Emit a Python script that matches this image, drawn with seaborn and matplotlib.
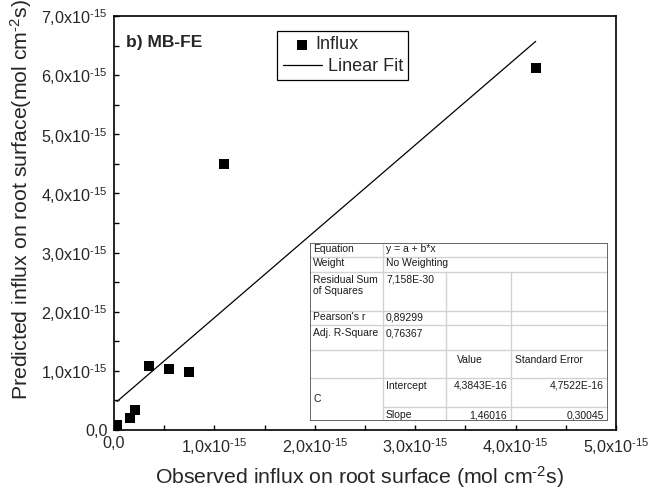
"""
Predicted vs observed influx on root surface, MB-FE, with linear fit.
"""

import numpy as np
import pandas as pd
import seaborn as sns
import matplotlib.pyplot as plt
from matplotlib.patches import Rectangle
from matplotlib.ticker import FuncFormatter, FixedLocator

# --- Data ---
observed = [0.03e-15, 0.16e-15, 0.21e-15, 0.35e-15, 0.55e-15, 0.75e-15, 1.10e-15, 4.20e-15]
predicted = [0.08e-15, 0.20e-15, 0.34e-15, 1.08e-15, 1.03e-15, 0.98e-15, 4.50e-15, 6.12e-15]

x_ticks = [0, 1e-15, 2e-15, 3e-15, 4e-15, 5e-15]
y_ticks = [0, 1e-15, 2e-15, 3e-15, 4e-15, 5e-15, 6e-15, 7e-15]

# fit results as printed in the Origin table
fit_intercept = 4.3843e-16
fit_slope = 1.46016
fit_table = [
    ["Equation", "y = a + b*x", "", ""],
    ["Weight", "No Weighting", "", ""],
    ["Residual Sum\nof Squares", "7,158E-30", "", ""],
    ["Pearson's r", "0,89299", "", ""],
    ["Adj. R-Square", "0,76367", "", ""],
    ["", "", "Value", "Standard Error"],
    ["C", "Intercept", "4,3843E-16", "4,7522E-16"],
    ["", "Slope", "1,46016", "0,30045"],
]

df = pd.DataFrame({"Observed": observed, "Predicted": predicted})
x_fit = np.array([df["Observed"].min(), df["Observed"].max()])
fit_df = pd.DataFrame({"x": x_fit, "y": fit_intercept + fit_slope * x_fit})

# --- Style ---
sns.set_style("ticks")
plt.rcParams["font.family"] = ["Liberation Sans", "DejaVu Sans"]
plt.rcParams["mathtext.fontset"] = "custom"
plt.rcParams["mathtext.rm"] = "Liberation Sans"
plt.rcParams["mathtext.it"] = "Liberation Sans:italic"
plt.rcParams["mathtext.bf"] = "Liberation Sans:bold"

fig = plt.figure(figsize=(6.5, 4.95), dpi=100)
ax = fig.add_axes([114 / 650, 1 - 430 / 495, 502 / 650, 414 / 495])

sns.scatterplot(data=df, x="Observed", y="Predicted", marker="s", s=48,
                color="black", edgecolor="black", linewidth=0, label="Influx",
                ax=ax, zorder=3)
sns.lineplot(data=fit_df, x="x", y="y", color="black", linewidth=0.9,
             label="Linear Fit", ax=ax)

ax.set_xlim(x_ticks[0], x_ticks[-1])
ax.set_ylim(y_ticks[0], y_ticks[-1])


def sci_fmt(v, pos):
    n = v / 1e-15
    if abs(n) < 1e-9:
        return "0,0"
    # \text keeps the plain hyphen the original uses
    return f"{n:.1f}".replace(".", ",") + r"x10$^{\text{-15}}$"


def halves(ticks):
    return [(a + b) / 2 for a, b in zip(ticks[:-1], ticks[1:])]


ax.xaxis.set_major_locator(FixedLocator(x_ticks))
ax.xaxis.set_minor_locator(FixedLocator(halves(x_ticks)))
ax.yaxis.set_major_locator(FixedLocator(y_ticks))
ax.yaxis.set_minor_locator(FixedLocator(halves(y_ticks)))
ax.xaxis.set_major_formatter(FuncFormatter(sci_fmt))
ax.yaxis.set_major_formatter(FuncFormatter(sci_fmt))
ax.tick_params(which="both", direction="in", length=3.5, width=1,
               color="black", labelsize=11.6, pad=4.5, top=False, right=False)

for side in ["top", "right", "bottom", "left"]:
    ax.spines[side].set_visible(True)
    ax.spines[side].set_color("black")
    ax.spines[side].set_linewidth(1.2)

ax.set_xlabel(r"Observed influx on root surface (mol cm$^{\text{-2}}$s)", fontsize=15.3)
ax.set_ylabel(r"Predicted influx on root surface(mol cm$^{\text{-2}}$s)", fontsize=15.3)
ax.xaxis.label.set_va("center")
ax.yaxis.label.set_va("center")
ax.xaxis.set_label_coords(0.49, -0.113)
ax.yaxis.set_label_coords(-0.185, 0.556)

ax.text(0.024, 0.937, "b) MB-FE", transform=ax.transAxes, fontsize=12.5,
        fontweight="bold", va="center", ha="left")

leg = ax.legend(loc="upper left", bbox_to_anchor=(0.325, 0.964),
                borderaxespad=0, fontsize=13, frameon=True, fancybox=False,
                handlelength=2.2, handletextpad=0.3, borderpad=0.3,
                labelspacing=0.25, framealpha=1)
leg.get_frame().set_edgecolor("black")
leg.get_frame().set_linewidth(0.9)
# Origin puts the scatter label closer to its symbol
leg.get_texts()[0].set_position((-12, 0))

# --- Fit results table, drawn in a small inset in pixel units ---
col_x = [0, 73, 136, 201, 298]
row_y = [0, 14, 29, 68, 82, 107, 135, 164, 178]
tax = fig.add_axes([310 / 650, 1 - 421 / 495, 298 / 650, 178 / 495])
tax.set_xlim(0, col_x[-1])
tax.set_ylim(row_y[-1], 0)
tax.axis("off")
tax.add_patch(Rectangle((0, 0), col_x[-1], row_y[-1], facecolor="white",
                        edgecolor="none", zorder=0))
grid_kw = dict(color="#d2d2d2", linewidth=1, zorder=1)
for i in range(1, len(row_y) - 1):
    x_start = col_x[1] if i == 7 else 0
    tax.plot([x_start, col_x[-1]], [row_y[i], row_y[i]], **grid_kw)
tax.plot([col_x[1], col_x[1]], [0, row_y[-1]], **grid_kw)
for c in (2, 3):
    tax.plot([col_x[c], col_x[c]], [row_y[2], row_y[-1]], **grid_kw)
tax.add_patch(Rectangle((0, 0), col_x[-1], row_y[-1], facecolor="none",
                        edgecolor="#5a5a5a", linewidth=1.3, zorder=3))

txt_kw = dict(fontsize=7.5, color="#1a1a1a", va="top", zorder=4)
for r, row in enumerate(fit_table):
    for c, cell in enumerate(row):
        if not cell:
            continue
        if r == 6 and c == 0:
            tax.text(col_x[0] + 3, (row_y[6] + row_y[8]) / 2, cell,
                     fontsize=7.5, color="#1a1a1a", va="center", ha="left")
        elif r >= 6 and c >= 2:
            tax.text(col_x[c + 1] - 4, row_y[r] + 3, cell, ha="right", **txt_kw)
        elif r == 5 and c == 2:
            tax.text(col_x[c] + 11, row_y[r] + 5, cell, ha="left", **txt_kw)
        elif r == 5:
            tax.text(col_x[c] + 4, row_y[r] + 5, cell, ha="left", **txt_kw)
        else:
            pad = 1.5 if r in (0, 1, 3) else 3
            tax.text(col_x[c] + 3, row_y[r] + pad, cell, ha="left",
                     linespacing=1.1, **txt_kw)

fig.savefig("out.png", dpi=100)
